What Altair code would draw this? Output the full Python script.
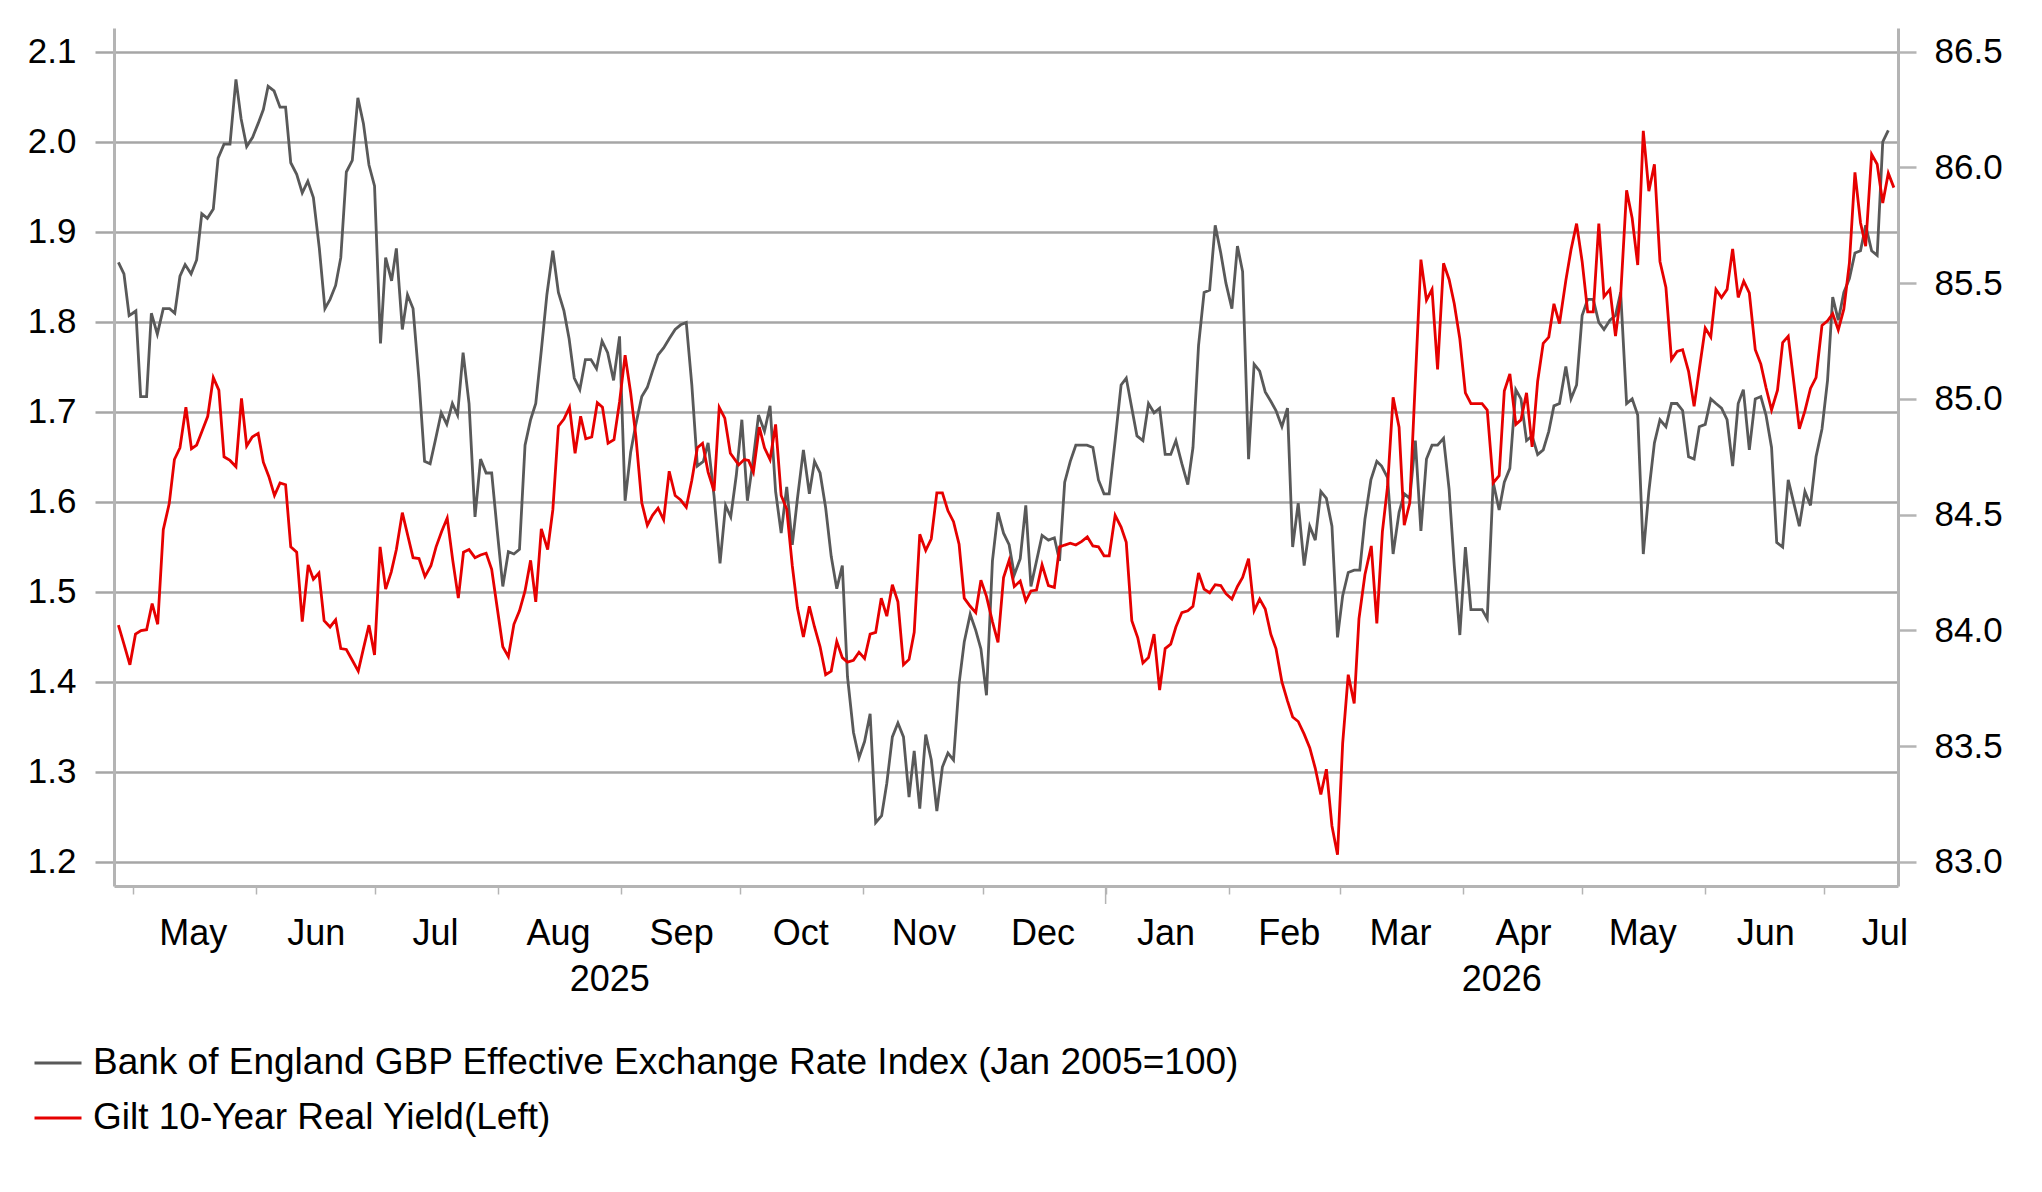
import altair as alt
import pandas as pd

# ---------------- data ----------------
BASE_DATE = "2025-05-01"          # day 0 of the day-offset arrays below
X_START = "2025-04-26 07:00"
X_END = "2026-07-19 13:00"
YEAR_BREAK = "2026-01-01"

GBP_LABEL = "Bank of England GBP Effective Exchange Rate Index (Jan 2005=100)"
GILT_LABEL = "Gilt 10-Year Real Yield(Left)"

# GBP effective exchange rate index (right axis): days after 2025-05-01
gbp_days = [
    -3.6, -2.2, -0.9, 0.0, 0.8, 2.0, 3.5, 4.7, 6.2, 7.7,
    9.3, 10.6, 11.9, 13.2, 14.7, 16.1, 17.4, 18.8, 20.3, 21.5,
    23.0, 24.5, 26.0, 27.3, 28.7, 30.2, 31.6, 32.9, 34.1, 35.6,
    37.1, 38.5, 39.8, 41.3, 42.7, 44.1, 45.5, 47.0, 48.4, 49.7,
    51.1, 52.4, 53.8, 55.3, 56.7, 58.1, 59.5, 60.9, 62.4, 63.7,
    65.2, 66.4, 67.9, 69.2, 70.6, 72.1, 73.5,
    74.9, 76.2, 77.7, 79.1, 80.5, 81.8, 83.2, 84.7, 86.2, 87.6,
    89.0, 90.4, 91.8, 93.2, 94.6, 96.0, 97.4, 98.8, 100.2, 101.5,
    102.9, 104.3, 105.8, 107.2, 108.6, 109.9, 111.2, 112.6, 114.0, 115.4,
    116.8, 118.2, 119.6, 121.1, 122.6, 124.0, 125.4, 126.7, 128.2, 129.6,
    130.9, 132.3, 133.7, 135.1, 136.6, 138.0, 139.4, 140.8, 142.2, 143.7,
    144.9, 146.4, 147.9, 149.3, 150.6,
    152.0, 153.4, 154.8, 156.2, 157.6, 159.1, 160.5, 161.9, 163.3, 164.7,
    166.1, 167.4, 168.9, 170.4, 171.7, 173.1, 174.5, 175.9, 177.3, 178.7,
    180.0, 181.5, 182.9, 184.3, 185.7, 187.1, 188.6, 189.9, 191.3, 192.7,
    194.1, 195.5, 196.8, 198.2, 199.7, 201.1, 202.5, 203.9, 205.3, 206.7,
    208.1, 209.4, 210.9, 212.3, 213.6, 215.0, 216.5, 217.9, 219.3, 220.7,
    222.0, 223.5, 224.9, 226.2, 227.6, 229.0,
    230.6, 232.1, 233.4, 234.7, 236.1, 237.5, 238.9, 240.3, 241.8, 243.2,
    244.6, 245.9, 247.4, 248.9, 250.2, 251.6, 252.9, 254.4, 255.8, 257.2,
    258.6, 260.0, 261.4, 262.7, 264.2, 265.7, 267.0, 268.4, 269.8, 271.2,
    272.6, 274.0, 275.3, 276.8, 278.2, 279.5, 281.0, 282.4, 283.8, 285.2,
    286.6, 287.9, 289.4, 290.8, 292.1, 293.5, 295.0, 296.4, 297.8, 299.2,
    300.6, 302.0, 303.4, 304.7, 306.1, 307.6,
    309.0, 310.3, 311.8, 313.3, 314.5, 316.0, 317.4, 318.9, 320.2, 321.6,
    323.0, 324.4, 325.8, 327.2, 328.6, 330.1, 331.5, 332.8, 334.2, 335.6,
    337.0, 338.4, 339.8, 341.1, 342.6, 344.1, 345.4, 346.8, 348.3, 349.6,
    351.0, 352.4, 353.8, 355.2, 356.6, 357.9, 359.3, 360.9, 362.2, 363.6,
    365.0, 366.4, 367.8, 369.2, 370.5, 372.0, 373.4, 374.7, 376.2, 377.6,
    379.0, 380.4, 381.8, 383.2, 384.6,
    386.1, 387.5, 388.9, 390.3, 391.8, 393.2, 394.5, 396.0, 397.4, 398.7,
    400.1, 401.5, 402.9, 404.3, 405.6, 407.1, 408.6, 410.0, 411.3, 412.7,
    414.0, 415.5, 416.9, 418.3, 419.7, 421.1, 422.5, 423.9, 425.4, 426.8,
    428.1, 429.5, 430.9, 432.3, 433.7, 435.1, 436.4, 437.9, 439.3, 440.7,
    442.1,
]
gbp_values = [
    85.59, 85.54, 85.36, 85.37, 85.38, 85.01, 85.01, 85.37, 85.28, 85.39,
    85.39, 85.37, 85.53, 85.58, 85.54, 85.60, 85.80, 85.78, 85.82, 86.04,
    86.10, 86.10, 86.38, 86.21, 86.09, 86.13, 86.19, 86.25, 86.35, 86.33,
    86.26, 86.26, 86.02, 85.97, 85.89, 85.94, 85.87, 85.65, 85.39, 85.43,
    85.49, 85.61, 85.98, 86.03, 86.30, 86.19, 86.01, 85.92, 85.24, 85.61,
    85.51, 85.65, 85.30, 85.45, 85.39, 85.08, 84.73,
    84.72, 84.82, 84.94, 84.89, 84.98, 84.93, 85.20, 84.98, 84.49, 84.74,
    84.68, 84.68, 84.43, 84.19, 84.34, 84.33, 84.35, 84.80, 84.91, 84.98,
    85.21, 85.45, 85.64, 85.46, 85.38, 85.26, 85.09, 85.04, 85.17, 85.17,
    85.13, 85.25, 85.20, 85.08, 85.27, 84.56, 84.77, 84.89, 85.01, 85.05,
    85.12, 85.19, 85.22, 85.26, 85.30, 85.32, 85.33, 85.06, 84.71, 84.73,
    84.81, 84.58, 84.29, 84.54, 84.49,
    84.67, 84.91, 84.56, 84.73, 84.93, 84.86, 84.97, 84.60, 84.42, 84.62,
    84.37, 84.57, 84.78, 84.59, 84.73, 84.68, 84.53, 84.32, 84.18, 84.28,
    83.80, 83.56, 83.45, 83.52, 83.64, 83.17, 83.20, 83.34, 83.54, 83.60,
    83.54, 83.28, 83.48, 83.23, 83.55, 83.44, 83.22, 83.41, 83.47, 83.44,
    83.77, 83.95, 84.07, 84.00, 83.92, 83.72, 84.30, 84.51, 84.42, 84.37,
    84.24, 84.31, 84.54, 84.19, 84.30, 84.41,
    84.39, 84.40, 84.30, 84.64, 84.73, 84.80, 84.80, 84.80, 84.79, 84.65,
    84.59, 84.59, 84.82, 85.06, 85.09, 84.96, 84.84, 84.82, 84.98, 84.94,
    84.96, 84.76, 84.76, 84.82, 84.72, 84.63, 84.79, 85.23, 85.46, 85.47,
    85.75, 85.63, 85.50, 85.39, 85.66, 85.55, 84.74, 85.15, 85.12, 85.03,
    84.99, 84.95, 84.88, 84.96, 84.36, 84.55, 84.28, 84.45, 84.39, 84.60,
    84.57, 84.45, 83.97, 84.15, 84.25, 84.26,
    84.26, 84.48, 84.65, 84.73, 84.71, 84.66, 84.33, 84.51, 84.59, 84.57,
    84.82, 84.43, 84.74, 84.80, 84.80, 84.83, 84.61, 84.28, 83.98, 84.36,
    84.09, 84.09, 84.09, 84.05, 84.64, 84.52, 84.64, 84.70, 85.04, 85.00,
    84.82, 84.84, 84.76, 84.78, 84.86, 84.97, 84.98, 85.14, 85.00, 85.06,
    85.36, 85.43, 85.43, 85.33, 85.30, 85.34, 85.36, 85.46, 84.98, 85.00,
    84.93, 84.33, 84.60, 84.81, 84.91,
    84.88, 84.98, 84.98, 84.95, 84.75, 84.74, 84.88, 84.89, 85.00, 84.98,
    84.96, 84.91, 84.71, 84.98, 85.04, 84.78, 85.00, 85.01, 84.93, 84.79,
    84.38, 84.36, 84.65, 84.55, 84.45, 84.60, 84.54, 84.75, 84.87, 85.08,
    85.44, 85.34, 85.46, 85.52, 85.63, 85.64, 85.75, 85.64, 85.62, 86.11,
    86.16,
]

# Gilt 10-year real yield (left axis): days after 2025-05-01
gilt_days = [
    -3.6, -2.2, -0.7, 0.7, 2.1, 3.5, 4.9, 6.3, 7.7, 9.2,
    10.5, 11.9, 13.4, 14.8, 16.1, 17.5, 18.9, 20.3, 21.7, 23.0,
    24.5, 26.0, 27.4, 28.7, 30.1, 31.6, 32.9, 34.3, 35.7, 37.1,
    38.5, 39.8, 41.3, 42.7, 44.2, 45.5, 46.9, 48.2, 49.7, 51.1,
    52.4, 53.8, 55.3, 56.8, 58.1, 59.5, 60.9, 62.3, 63.7, 65.1,
    66.4, 67.9, 69.3, 70.6, 72.1, 73.6,
    75.1, 76.4, 77.8, 79.2, 80.6, 82.0, 83.3, 84.7, 86.2, 87.6,
    89.0, 90.4, 91.8, 93.2, 94.6, 96.0, 97.4, 98.8, 100.2, 101.5,
    102.9, 104.5, 105.8, 107.2, 108.6, 110.0, 111.4, 112.8, 114.1, 115.6,
    117.0, 118.3, 119.7, 121.2, 122.6, 124.0, 125.4, 126.7, 128.2, 129.6,
    130.9, 132.3, 133.7, 135.1, 136.6, 138.0, 139.4, 140.8, 142.2, 143.5,
    144.9, 146.4, 147.7, 149.1, 150.5,
    152.6, 154.0, 155.1, 156.3, 157.8, 159.1, 160.5, 161.9, 163.3, 164.7,
    166.1, 167.4, 168.9, 170.4, 171.7, 173.1, 174.5, 175.9, 177.3, 178.7,
    180.0, 181.5, 182.9, 184.3, 185.7, 187.1, 188.5, 189.9, 191.3, 192.7,
    194.1, 195.5, 196.8, 198.2, 199.7, 201.1, 202.5, 203.9, 205.3, 206.7,
    208.1, 209.4, 210.9, 212.3, 213.6, 215.0, 216.5, 217.9, 219.3, 220.7,
    222.0, 223.5, 224.9, 226.2, 227.6, 229.0,
    230.6, 232.1, 233.4, 234.7, 236.1, 237.5, 239.0, 240.4, 241.8, 243.2,
    244.6, 245.9, 247.4, 248.9, 250.2, 251.6, 253.1, 254.4, 255.8, 257.2,
    258.6, 260.0, 261.4, 262.7, 264.2, 265.7, 267.0, 268.4, 269.8, 271.2,
    272.6, 274.0, 275.3, 276.8, 278.2, 279.5, 281.0, 282.4, 283.8, 285.2,
    286.6, 287.9, 289.4, 290.8, 292.1, 293.5, 295.0, 296.4, 297.8, 299.2,
    300.6, 302.0, 303.4, 304.7, 306.1, 307.6,
    308.8, 310.3, 311.9, 313.3, 314.7, 316.0, 317.4, 318.9, 320.2, 321.6,
    323.0, 324.4, 325.8, 327.2, 328.6, 330.1, 331.5, 332.8, 334.2, 335.6,
    337.0, 338.4, 339.8, 341.1, 342.6, 344.1, 345.4, 346.8, 348.3, 349.6,
    351.0, 352.4, 353.8, 355.2, 356.6, 357.9, 359.3, 360.9, 362.2, 363.6,
    365.0, 366.4, 367.8, 369.2, 370.5, 372.0, 373.4, 374.7, 376.2, 377.6,
    379.0, 380.4, 381.8, 383.2, 384.6,
    386.1, 387.5, 388.9, 390.3, 391.8, 393.2, 394.5, 396.0, 397.4, 398.7,
    400.1, 401.5, 402.9, 404.3, 405.7, 407.1, 408.6, 410.0, 411.3, 412.7,
    414.2, 415.5, 416.9, 418.3, 419.7, 421.1, 422.5, 423.9, 425.4, 426.8,
    428.1, 429.5, 430.9, 432.3, 433.7, 435.1, 436.4, 437.9, 439.3, 440.7,
    442.1, 443.5,
]
gilt_values = [
    1.463, 1.442, 1.419, 1.453, 1.457, 1.458, 1.487, 1.464, 1.569, 1.598,
    1.647, 1.660, 1.705, 1.659, 1.663, 1.679, 1.695, 1.738, 1.724, 1.650,
    1.646, 1.639, 1.715, 1.662, 1.672, 1.676, 1.644, 1.628, 1.607, 1.621,
    1.619, 1.550, 1.544, 1.467, 1.530, 1.514, 1.521, 1.468, 1.461, 1.469,
    1.437, 1.436, 1.424, 1.412, 1.437, 1.463, 1.430, 1.550, 1.503, 1.522,
    1.547, 1.588, 1.562, 1.538, 1.537, 1.517,
    1.529, 1.550, 1.567, 1.582, 1.535, 1.493, 1.544, 1.547, 1.538, 1.541,
    1.543, 1.525, 1.482, 1.439, 1.428, 1.464, 1.479, 1.501, 1.535, 1.489,
    1.570, 1.547, 1.591, 1.684, 1.692, 1.705, 1.654, 1.695, 1.670, 1.672,
    1.710, 1.705, 1.665, 1.669, 1.711, 1.763, 1.721, 1.673, 1.599, 1.574,
    1.585, 1.593, 1.580, 1.634, 1.607, 1.602, 1.594, 1.624, 1.660, 1.665,
    1.633, 1.612, 1.705, 1.693, 1.654,
    1.641, 1.647, 1.646, 1.633, 1.683, 1.660, 1.647, 1.686, 1.607, 1.592,
    1.529, 1.482, 1.450, 1.484, 1.461, 1.439, 1.408, 1.412, 1.445, 1.427,
    1.422, 1.424, 1.433, 1.426, 1.453, 1.455, 1.493, 1.473, 1.508, 1.489,
    1.419, 1.425, 1.455, 1.564, 1.546, 1.559, 1.610, 1.610, 1.590, 1.578,
    1.553, 1.493, 1.484, 1.477, 1.513, 1.495, 1.467, 1.444, 1.516, 1.535,
    1.506, 1.512, 1.490, 1.501, 1.502, 1.530,
    1.507, 1.505, 1.550, 1.552, 1.554, 1.552, 1.556, 1.561, 1.551, 1.550,
    1.540, 1.540, 1.585, 1.572, 1.555, 1.468, 1.449, 1.421, 1.427, 1.453,
    1.391, 1.437, 1.442, 1.461, 1.477, 1.479, 1.484, 1.521, 1.503, 1.499,
    1.508, 1.507, 1.498, 1.492, 1.506, 1.516, 1.537, 1.479, 1.492, 1.481,
    1.453, 1.437, 1.400, 1.379, 1.361, 1.356, 1.342, 1.327, 1.304, 1.275,
    1.303, 1.240, 1.208, 1.332, 1.408, 1.376,
    1.470, 1.519, 1.551, 1.465, 1.567, 1.617, 1.716, 1.683, 1.574, 1.599,
    1.735, 1.869, 1.824, 1.836, 1.747, 1.865, 1.847, 1.820, 1.781, 1.721,
    1.709, 1.709, 1.709, 1.702, 1.621, 1.629, 1.723, 1.742, 1.686, 1.691,
    1.721, 1.661, 1.734, 1.776, 1.783, 1.820, 1.798, 1.846, 1.880, 1.909,
    1.867, 1.811, 1.811, 1.909, 1.828, 1.836, 1.784, 1.829, 1.946, 1.915,
    1.863, 2.012, 1.945, 1.975, 1.867,
    1.838, 1.758, 1.767, 1.769, 1.745, 1.706, 1.747, 1.793, 1.783, 1.836,
    1.827, 1.836, 1.881, 1.827, 1.845, 1.832, 1.769, 1.753, 1.727, 1.702,
    1.724, 1.777, 1.784, 1.733, 1.681, 1.701, 1.726, 1.738, 1.796, 1.801,
    1.809, 1.791, 1.814, 1.865, 1.966, 1.910, 1.884, 1.986, 1.975, 1.932,
    1.965, 1.949,
]

left_ticks = [1.2, 1.3, 1.4, 1.5, 1.6, 1.7, 1.8, 1.9, 2.0, 2.1]
right_ticks = [83.0, 83.5, 84.0, 84.5, 85.0, 85.5, 86.0, 86.5]
left_domain = [1.1733, 2.1263]
right_domain = [82.896, 86.602]
month_ticks = [
    "2025-05-01", "2025-06-01", "2025-07-01", "2025-08-01", "2025-09-01",
    "2025-10-01", "2025-11-01", "2025-12-01", "2026-01-01", "2026-02-01",
    "2026-03-01", "2026-04-01", "2026-05-01", "2026-06-01", "2026-07-01",
]
year_labels = ["2025", "2026"]

# ---------------- styling ----------------
FONT = "Liberation Sans"
GRID = "#a6a6a6"
AXIS = "#b4b4b4"
GRAY = "#595959"
RED = "#e60000"
W, H = 1784, 858

# ---------------- build frames ----------------
assert len(gbp_days) == len(gbp_values)
assert len(gilt_days) == len(gilt_values)

base = pd.Timestamp(BASE_DATE)
gbp_df = pd.DataFrame({
    "date": base + pd.to_timedelta(gbp_days, unit="D"),
    "value": gbp_values,
    "series": GBP_LABEL,
})
gilt_df = pd.DataFrame({
    "date": base + pd.to_timedelta(gilt_days, unit="D"),
    "value": gilt_values,
    "series": GILT_LABEL,
})

x_start = pd.Timestamp(X_START)
x_end = pd.Timestamp(X_END)
brk = pd.Timestamp(YEAR_BREAK)
year_df = pd.DataFrame({
    "label": year_labels,
    "date": [x_start + (brk - x_start) / 2, brk + (x_end - brk) / 2],
})
brk_df = pd.DataFrame({"date": [brk]})


def dt(ts):
    return alt.DateTime(year=ts.year, month=ts.month, date=ts.day,
                        hours=ts.hour, minutes=ts.minute)


x_scale = alt.Scale(domain=[dt(x_start), dt(x_end)])
x_axis = alt.Axis(
    values=[dt(pd.Timestamp(m)) for m in month_ticks],
    format="%b", title=None, grid=False,
    labelOffset=60, labelPadding=39, labelBaseline="middle",
    labelFont=FONT, labelFontSize=36, labelColor="black",
    labelFlush=False, labelOverlap=False,
    tickSize=8, tickColor=AXIS, tickWidth=1.5,
    domainColor=AXIS, domainWidth=3,
)
X = alt.X("date:T", scale=x_scale, axis=x_axis, title=None)

color_scale = alt.Scale(domain=[GBP_LABEL, GILT_LABEL], range=[GRAY, RED])
legend = alt.Legend(
    title=None, orient="none", legendX=-81, legendY=1010,
    direction="vertical", symbolType="stroke", symbolStrokeWidth=3,
    symbolSize=2209, labelFont=FONT, labelFontSize=37, labelColor="black",
    labelOffset=10, labelLimit=0, rowPadding=12, padding=0,
)

gbp_line = alt.Chart(gbp_df).mark_line(strokeWidth=2.8).encode(
    x=X,
    y=alt.Y("value:Q", title=None,
            scale=alt.Scale(domain=right_domain, nice=False, zero=False),
            axis=alt.Axis(orient="right", values=right_ticks, format=".1f",
                          grid=False, tickSize=18, tickColor=AXIS, tickWidth=2.5,
                          domainColor=AXIS, domainWidth=3,
                          labelFont=FONT, labelFontSize=35, labelColor="black",
                          labelPadding=18, title=None)),
    color=alt.Color("series:N", scale=color_scale, legend=legend),
)

gilt_line = alt.Chart(gilt_df).mark_line(strokeWidth=2.8).encode(
    x=X,
    y=alt.Y("value:Q", title=None,
            scale=alt.Scale(domain=left_domain, nice=False, zero=False),
            axis=alt.Axis(orient="left", values=left_ticks, format=".1f",
                          grid=True, gridColor=GRID, gridWidth=2.5,
                          tickSize=19, tickColor=GRID, tickWidth=2.5,
                          domainColor=AXIS, domainWidth=3,
                          labelFont=FONT, labelFontSize=35, labelColor="black",
                          labelPadding=19, title=None)),
    color=alt.Color("series:N", scale=color_scale, legend=legend),
)

year_text = alt.Chart(year_df).mark_text(
    font=FONT, fontSize=36, color="black", align="center", baseline="middle"
).encode(x=X, y=alt.value(H + 94), text="label:N")

jan_tick = alt.Chart(brk_df).mark_rule(color=AXIS, strokeWidth=1.5).encode(
    x=X, y=alt.value(H), y2=alt.value(H + 18)
)

chart = (
    alt.layer(gbp_line, gilt_line, year_text, jan_tick)
    .resolve_scale(y="independent")
    .properties(
        width=W, height=H,
        autosize=alt.AutoSizeParams(type="none"),
        padding={"left": 106, "top": 20, "right": 130, "bottom": 296},
    )
    .configure_view(stroke=None)
)

chart.save("out.html", embed_options={"renderer": "svg", "actions": False})
